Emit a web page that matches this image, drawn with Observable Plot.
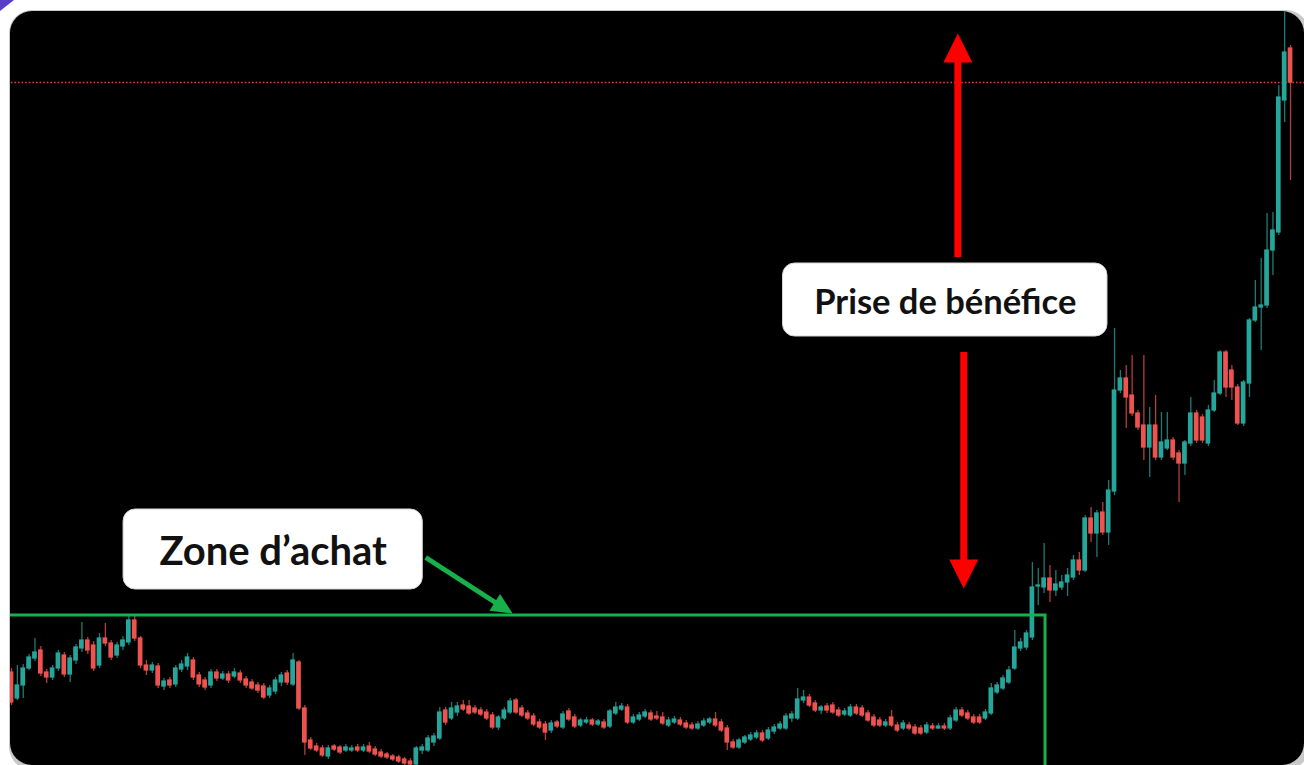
<!DOCTYPE html>
<html>
<head>
<meta charset="utf-8">
<script src="https://cdn.jsdelivr.net/npm/d3@7"></script>
<script src="https://cdn.jsdelivr.net/npm/@observablehq/plot@0.6"></script>
<style>
  html, body { margin: 0; padding: 0; background: #fff; width: 1304px; height: 765px; overflow: hidden; }
  #corner { position: absolute; left: 0; top: 0; width: 14px; height: 11px; background: #5a3ec8; clip-path: polygon(0 0, 100% 0, 0 100%); }
  #outline { position: absolute; left: 9px; top: 10px; width: 1300px; height: 760px; border-radius: 23px; background: #c9c9c9; }
  #chart { position: absolute; left: 0; top: 0; }
</style>
</head>
<body>
<div id="corner"></div>
<div id="outline"></div>
<div id="chart"></div>
<script>
// Candle values (arbitrary price units), one entry per session
const open = [
  93,67,80,97,107,115,93,88,97,110,
  91,105,117,125,120,100,127,122,110,119,
  123,145,127,100,95,99,79,85,81,96,
  99,105,90,85,80,93,87,91,89,92,
  86,83,80,79,70,74,83,92,81,103,
  57,25,19,17,9,19,18,15,15,18,
  15,19,16,13,11,9,8,6,4,1,
  15,15,23,27,55,47,53,60,59,57,
  55,53,50,38,47,53,65,57,52,49,
  43,41,35,43,38,54,48,40,43,45,
  41,43,39,52,56,58,43,46,49,52,
  49,48,40,43,45,42,40,37,40,43,
  46,43,37,23,18,23,26,28,32,27,
  34,37,37,47,47,65,68,62,55,59,
  60,55,51,50,58,57,52,48,45,40,
  48,40,37,40,38,37,33,39,37,39,
  37,45,55,52,48,48,47,52,73,77,
  83,97,117,118,128,179,178,187,175,178,
  183,188,205,195,247,232,253,233,274,375,
  387,370,352,340,318,340,308,317,325,312,
  302,322,352,348,322,355,372,413,395,378,
  342,382,445,458,460,515,533,665,717
];
const high = [
  97,100,101,111,127,119,96,100,115,113,
  110,121,143,128,124,132,142,125,123,129,
  149,149,129,105,103,102,87,88,100,105,
  112,108,93,88,96,96,94,94,97,95,
  89,86,83,82,80,88,93,95,112,105,
  60,28,22,20,20,21,20,21,20,21,
  21,23,19,16,13,11,10,8,7,19,
  21,30,32,58,58,63,63,65,65,60,
  58,56,53,50,58,67,67,60,55,52,
  46,44,45,45,54,57,51,47,48,47,
  46,46,56,63,62,61,51,53,56,55,
  54,53,48,49,48,45,43,44,47,48,
  53,46,40,26,27,30,33,35,35,38,
  41,44,52,54,77,75,71,65,60,62,
  63,58,57,61,61,60,55,51,48,46,
  55,43,45,43,41,40,43,42,42,42,
  50,58,58,55,51,51,56,82,83,90,
  99,135,127,135,203,197,222,200,195,190,
  197,210,213,250,258,255,263,285,437,395,
  400,410,355,410,358,370,353,353,328,315,
  325,368,355,351,360,385,415,415,400,381,
  385,447,485,507,552,553,680,753,720
];
const low = [
  60,65,67,95,104,89,82,85,94,88,
  83,101,113,111,94,97,119,105,107,115,
  120,124,97,90,92,77,75,77,78,93,
  95,85,78,75,77,84,85,82,87,82,
  77,75,72,66,67,71,79,80,79,55,
  10,15,13,8,6,14,11,13,13,13,
  13,12,9,7,6,4,2,0,0,0,
  11,13,19,25,40,45,49,54,50,51,
  49,45,36,35,45,51,51,48,45,39,
  36,25,32,37,36,44,37,38,41,39,
  39,36,37,50,54,41,41,44,47,44,
  45,40,38,41,39,36,35,35,38,41,
  38,33,15,16,16,21,24,26,23,25,
  31,35,35,43,45,62,58,53,51,52,
  51,48,49,48,50,48,43,38,38,38,
  38,33,35,35,30,30,31,35,36,35,
  35,43,48,45,41,41,45,50,71,75,
  81,95,114,115,125,160,172,163,169,175,
  169,185,190,193,223,208,230,220,270,372,
  337,349,335,305,288,305,305,315,305,263,
  290,319,322,322,319,353,370,368,365,340,
  339,368,443,415,457,490,530,643,585
];
const close = [
  63,80,97,108,113,92,88,97,112,91,
  107,118,125,115,97,127,122,108,120,125,
  145,127,100,95,100,80,84,80,97,101,
  108,88,81,78,93,87,91,85,93,85,
  80,77,75,68,77,85,90,83,105,57,
  23,17,15,10,17,16,13,18,17,15,
  18,14,11,9,8,6,4,2,1,17,
  18,27,29,53,43,57,59,56,52,53,
  51,47,38,48,55,64,53,50,47,41,
  38,33,42,39,51,46,39,45,45,41,
  44,38,54,58,59,43,48,50,53,46,
  47,42,45,46,41,38,37,41,44,46,
  40,35,23,18,25,28,30,32,25,35,
  38,41,49,51,66,68,60,55,58,55,
  53,50,54,58,52,50,45,40,40,43,
  40,35,42,37,32,32,40,37,39,37,
  47,55,50,47,43,43,53,77,80,87,
  95,118,123,132,178,180,187,175,181,183,
  190,205,195,247,232,252,233,275,375,387,
  368,352,338,318,340,308,323,325,308,302,
  323,352,325,325,355,372,413,378,378,342,
  383,445,458,460,515,535,668,713,683
];

// Annotations (in session index / price units)
const labelTexts = ["Zone d’achat", "Prise de bénéfice"];
const labelStart = [19.1, 131.5];
const labelEnd = [70.1, 186.8];
const labelLow = [176, 429];
const labelHigh = [256, 502];
const zoneTop = 150;       // buy-zone ceiling price
const zoneEndSession = 176.24;
const buyArrow = {fromSession: 70.6, fromPrice: 208, toSession: 82.6, toPrice: 162.5, tipSession: 85.4, tipPrice: 152};
const takeProfitUp = {session: 161.3, from: 508, to: 705, tip: 732};
const takeProfitDown = {session: 162.3, from: 413, to: 200, tip: 177};

const TEAL = "#26a69a", RED = "#ef5350", GREEN = "#17b14b", ARROW_RED = "#ff0000";

const candles = close.map((c, i) => ({
  i, open: open[i], high: high[i], low: low[i], close: c,
  color: c >= open[i] ? TEAL : RED
}));
const lastClose = close[close.length - 1];
const labels = labelTexts.map((t, k) => ({
  text: t, x1: labelStart[k], x2: labelEnd[k], y1: labelLow[k], y2: labelHigh[k],
  cx: (labelStart[k] + labelEnd[k]) / 2, cy: (labelLow[k] + labelHigh[k]) / 2
}));

const triUp = { draw(ctx) { ctx.moveTo(0, 0); ctx.lineTo(-14.5, 29); ctx.lineTo(14.5, 29); ctx.closePath(); } };
const triSmall = { draw(ctx) { ctx.moveTo(0, 0); ctx.lineTo(-10, 21); ctx.lineTo(10, 21); ctx.closePath(); } };

const chart = Plot.plot({
  width: 1304,
  height: 765,
  margin: 0,
  x: { domain: [-1.875, 220.38], axis: null },
  y: { domain: [0, 765], axis: null },
  style: { background: "#000", clipPath: "inset(11px 0px 0px 10px round 22px)", maxWidth: "none" },
  marks: [
    Plot.ruleY([lastClose], { stroke: "#e04040", strokeWidth: 1.3, strokeDasharray: "1.6,2" }),
    Plot.ruleX(candles, { x: "i", y1: "low", y2: "high", stroke: "color", strokeWidth: 1.3, strokeOpacity: 0.75 }),
    Plot.rect(candles, {
      x1: d => d.i - 0.4, x2: d => d.i + 0.4, y1: "open", y2: "close",
      fill: "color", insetTop: -0.6, insetBottom: -0.6
    }),
    Plot.rect([{ a: -6, b: zoneEndSession, lo: -30, hi: zoneTop }], {
      x1: "a", x2: "b", y1: "lo", y2: "hi", fill: "none", stroke: GREEN, strokeWidth: 3
    }),
    Plot.link([buyArrow], {
      x1: "fromSession", y1: "fromPrice", x2: "toSession", y2: "toPrice",
      stroke: GREEN, strokeWidth: 5
    }),
    Plot.dot([buyArrow], { x: "tipSession", y: "tipPrice", symbol: triSmall, rotate: 122, fill: GREEN, stroke: "none", r: 8 }),
    // take-profit double arrow
    Plot.ruleX([takeProfitUp], { x: "session", y1: "from", y2: "to", stroke: ARROW_RED, strokeWidth: 7 }),
    Plot.dot([takeProfitUp], { x: "session", y: "tip", symbol: triUp, fill: ARROW_RED, stroke: "none", r: 10 }),
    Plot.ruleX([takeProfitDown], { x: "session", y1: "from", y2: "to", stroke: ARROW_RED, strokeWidth: 7 }),
    Plot.dot([takeProfitDown], { x: "session", y: "tip", symbol: triUp, rotate: 180, fill: ARROW_RED, stroke: "none", r: 10 }),
    // label boxes
    Plot.rect(labels, { x1: "x1", x2: "x2", y1: "y1", y2: "y2", fill: "#fff", stroke: "#d6d6d6", strokeWidth: 1, rx: 12 }),
    Plot.text([labels[0]], {
      x: "cx", y: "cy", text: "text", fill: "#111", fontSize: 40, fontWeight: "bold", dy: 3,
      fontFamily: "Lato, 'Open Sans', sans-serif", textAnchor: "middle", lineAnchor: "middle"
    }),
    Plot.text([labels[1]], {
      x: "cx", y: "cy", text: "text", fill: "#111", fontSize: 34.5, fontWeight: "bold", dy: 3,
      fontFamily: "Lato, 'Open Sans', sans-serif", textAnchor: "middle", lineAnchor: "middle"
    })
  ]
});
document.getElementById("chart").appendChild(chart);
</script>
</body>
</html>
